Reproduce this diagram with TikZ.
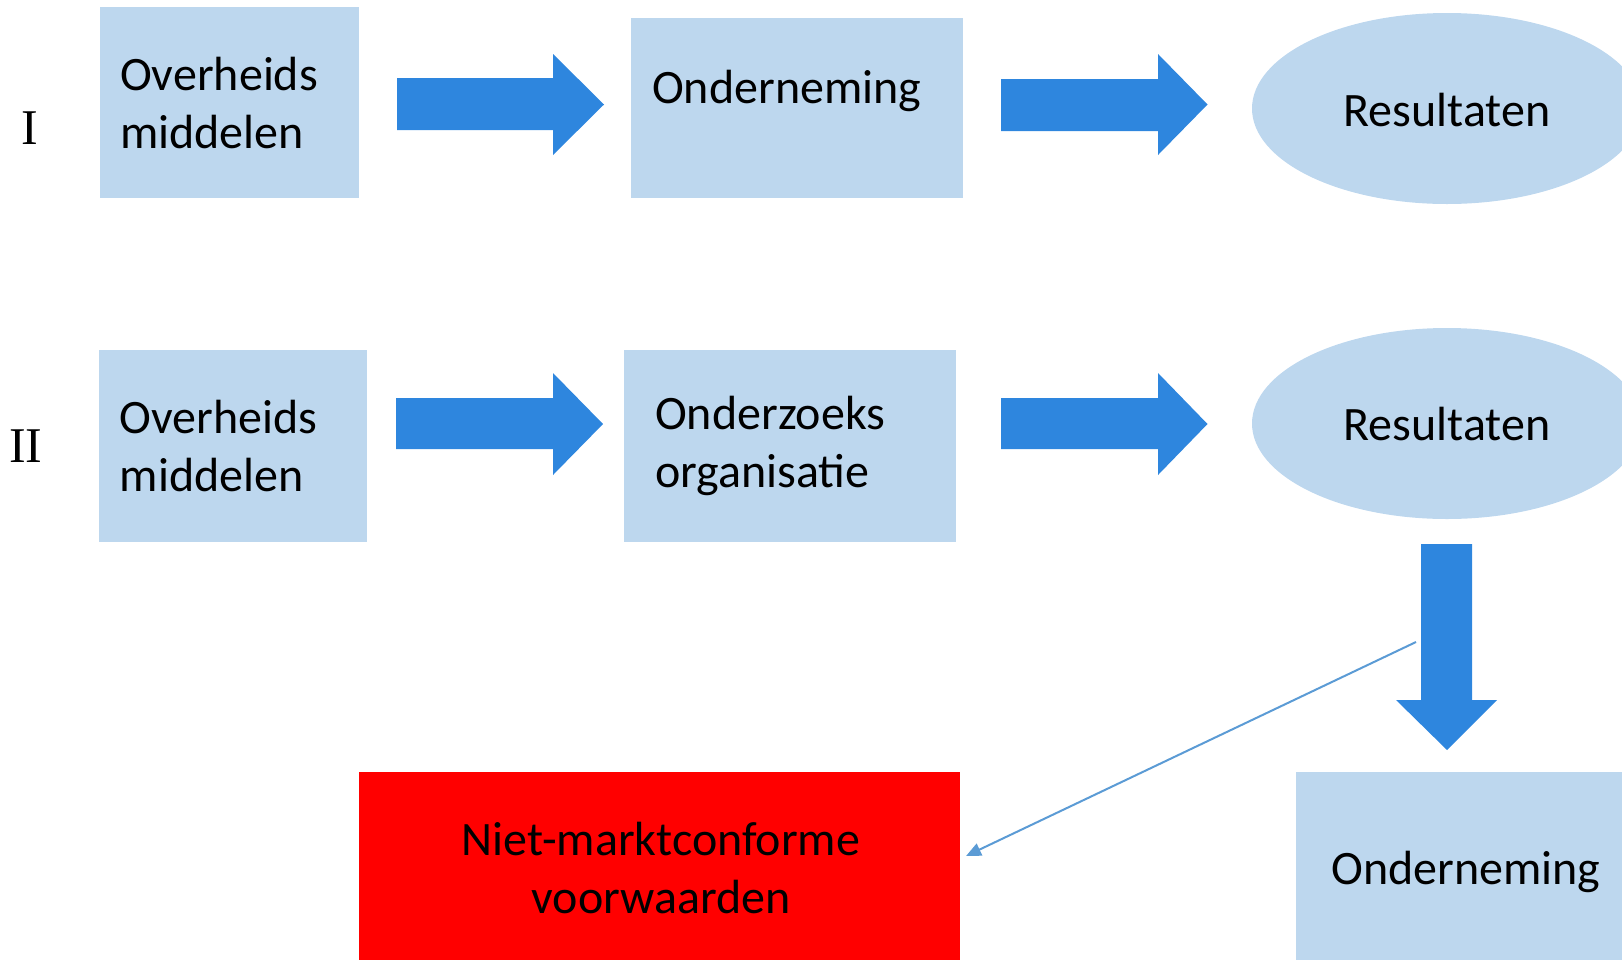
\documentclass[tikz,border=0pt]{standalone}
\usepackage{fontspec}
\setmainfont{Carlito}
\newfontfamily\romanfont{Liberation Serif}
\usetikzlibrary{arrows.meta,shapes.geometric}
\definecolor{boxblue}{HTML}{BDD7EE}
\definecolor{arrowblue}{HTML}{2E86DE}
\definecolor{lineblue}{HTML}{5B9BD5}
\definecolor{redbox}{HTML}{FF0000}
\begin{document}
\begin{tikzpicture}[x=1pt,y=-1pt,
  box/.style={fill=boxblue, draw=none, rectangle, inner sep=0pt, anchor=north west},
  oval/.style={fill=boxblue, draw=none, ellipse, inner sep=0pt, minimum width=390pt, minimum height=191pt},
  lbl/.style={font=\fontsize{48}{58}\selectfont, inner sep=0pt},
  roman/.style={font=\romanfont\fontsize{50}{60}\selectfont, inner sep=0pt, anchor=base},
  blockarrow/.style={fill=arrowblue, draw=none},
  thin/.style={draw=lineblue, line width=2pt, -{Triangle[length=15pt,width=13pt]}},
]
\useasboundingbox (0,0) rectangle (1622,959);
\clip (0,0) rectangle (1622,959);

% row I
\node[box, minimum width=259pt, minimum height=191pt] (b1) at (100,7) {};
\node[box, minimum width=332pt, minimum height=180pt] (b2) at (631,18) {};
\node[oval] (e1) at (1447,108.5) {};
% row II
\node[box, minimum width=268pt, minimum height=192pt] (b3) at (99,350) {};
\node[box, minimum width=332pt, minimum height=192pt] (b4) at (624,350) {};
\node[oval] (e2) at (1447,423.5) {};
% bottom
\node[box, minimum width=601pt, minimum height=196pt, fill=redbox] (red) at (359,772) {};
\node[box, minimum width=340pt, minimum height=196pt] (b5) at (1296,772) {};

% block arrows
\path[blockarrow] (397,78) -- (553,78) -- (553,54) -- (604,104.5) -- (553,155) -- (553,130) -- (397,130) -- cycle;
\path[blockarrow] (1001,79) -- (1158,79) -- (1158,54) -- (1207.5,104.5) -- (1158,155) -- (1158,131) -- (1001,131) -- cycle;
\path[blockarrow] (396,398) -- (553,398) -- (553,373) -- (603,424) -- (553,475) -- (553,449) -- (396,449) -- cycle;
\path[blockarrow] (1001,398) -- (1158,398) -- (1158,373) -- (1207.5,424) -- (1158,475) -- (1158,449) -- (1001,449) -- cycle;
\path[blockarrow] (1421,544) -- (1472,544) -- (1472,700) -- (1497,700) -- (1447,750) -- (1396,700) -- (1421,700) -- cycle;

% thin connector
\coordinate (ls) at (1416,642);
\coordinate (le) at (966,856);
\draw[thin] (ls) -- (le);

% texts
\node[roman] (rI) at (29.5,144) {I};
\node[roman] (rII) at (26,462.5) {II};
\node[lbl, align=left, anchor=base west] (t1) at (120,148.5) {Overheids\\middelen};
\node[lbl, anchor=base west] (t2) at (652,103.5) {Onderneming};
\node[lbl, anchor=base] (t3) at (1447,126.5) {Resultaten};
\node[lbl, align=left, anchor=base west] (t4) at (119.5,491.5) {Overheids\\middelen};
\node[lbl, align=left, anchor=base west] (t5) at (655,487.5) {Onderzoeks\\organisatie};
\node[lbl, anchor=base] (t6) at (1447,440.5) {Resultaten};
\node[lbl, align=center, anchor=base] (t7) at (661,913.5) {Niet-marktconforme\\voorwaarden};
\node[lbl, anchor=base] (t8) at (1466,884.5) {Onderneming};
\end{tikzpicture}
\end{document}
